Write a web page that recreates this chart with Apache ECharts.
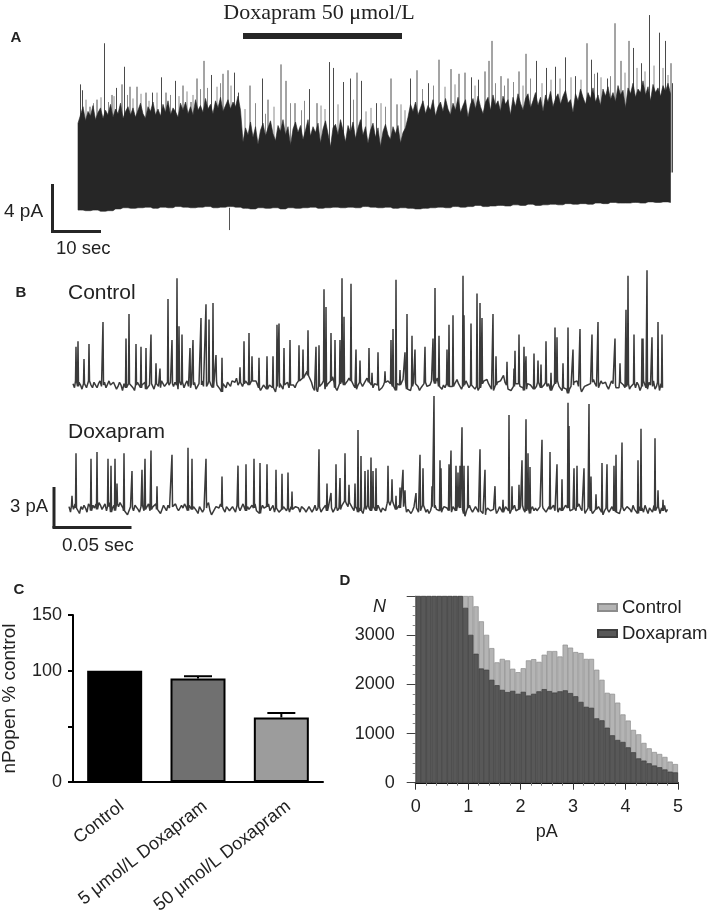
<!DOCTYPE html>
<html><head><meta charset="utf-8">
<style>html,body{margin:0;padding:0;background:#fff}#c{width:709px;height:916px}</style>
<script src="https://cdn.jsdelivr.net/npm/echarts@6/dist/echarts.min.js"></script>
</head><body><div id="c"></div>
<script>
// ---------- Panel A: long recording (time in s, current in pA) ----------
const aStep = 0.5;
const aBottomStep = 1.5;
const aBodyTop = [7.2,7.9,8.6,7.4,8.2,7.8,8.7,7.5,8.1,8.5,7.6,8.3,7.9,8.8,7.7,8.4,8.0,8.9,7.6,8.2,8.6,7.9,8.5,7.7,8.3,8.9,8.0,7.6,8.6,8.2,9.0,7.9,8.4,7.8,8.8,8.1,9.1,7.9,8.5,8.2,7.7,8.9,8.3,9.0,8.0,8.6,7.9,9.2,8.3,8.7,8.1,9.3,8.4,8.8,8.0,9.1,8.5,9.4,8.2,8.7,9.2,8.4,9.0,8.6,9.5,8.3,
  5.6,6.8,6.2,7.3,6.0,6.9,5.4,6.6,7.2,6.1,6.8,7.4,6.3,5.7,7.0,6.5,7.5,6.2,6.9,5.3,6.7,7.3,6.4,7.0,5.8,6.6,7.5,6.1,6.9,6.4,7.2,5.5,6.7,7.4,6.3,5.2,6.8,7.1,6.2,7.5,6.6,5.6,7.0,6.4,7.3,5.9,6.8,7.5,6.2,6.9,5.5,6.6,7.2,6.0,6.8,5.2,6.5,7.1,6.2,5.8,6.9,6.3,7.0,5.5,6.4,6.8,
  7.7,8.8,8.2,9.0,7.9,8.5,9.1,8.0,8.7,8.3,9.2,7.8,8.6,9.0,8.2,9.3,8.4,7.9,8.9,8.3,9.4,8.1,8.7,9.2,7.7,8.8,9.3,8.4,9.5,8.6,8.0,9.0,9.4,8.3,9.6,8.7,9.1,8.2,9.5,8.8,9.2,7.9,9.4,8.6,9.7,8.9,8.3,9.3,9.7,8.5,9.1,9.8,8.7,9.4,8.2,9.6,9.0,9.9,8.6,9.3,9.7,8.8,9.5,10.0,8.9,9.2,8.1,9.7,9.1,10.1,9.4,8.8,9.8,9.3,10.2,9.0,9.6,8.7,10.1,9.5,10.3,9.2,9.8,9.0,10.4,9.6,10.0,8.5,10.2,9.7,10.6,9.4,10.1,9.8,10.8,9.6,10.3,9.1,10.5,9.8,10.2,9.5,10.4,9.9,10.6,9.7];
const aBodyBottom = [-0.2,-0.25,-0.2,-0.3,-0.25,-0.1,0.0,-0.05,0.0,0.05,-0.05,0.05,0.0,0.1,0.05,0.0,0.05,0.1,0.0,0.05,0.1,0.05,
  -0.05,-0.1,0.0,-0.05,0.0,-0.1,0.0,-0.05,0.0,0.05,-0.05,0.0,0.05,0.0,0.05,0.0,0.1,0.05,0.0,0.05,-0.05,0.0,
  -0.05,-0.1,-0.05,0.0,0.05,0.0,0.1,0.05,0.1,0.2,0.1,0.15,0.2,0.15,0.25,0.2,0.3,0.2,0.25,0.3,0.25,0.35,0.3,0.35,0.3,0.4,0.35,0.45,0.4,0.4,0.45,0.4,0.5,0.45,0.5,0.45];
const aSpikes = [[0.5,10.5],[0.9,10],[2.4,8.6],[3.8,9.2],[5.3,14],[6.8,9.6],[7.7,10.2],[8.8,10.5],[9.3,12],[10.4,10.3],[11.8,10.3],[13.6,9.8],[14.9,9.8],[16.7,11.1],[17.6,9.8],[19.5,10.8],[21,10.4],[22.6,9],[23.8,11],[25.2,12.5],[26.7,11.3],[29,11.4],[30,11.7],[31.3,11.5],[32.1,9.8],[34.4,10.4],[36.9,11],[38,9.2],[40.6,12.2],[41.6,10.8],[43.4,8.9],[46.3,10.1],[47.8,8.9],[50.3,12.4],[51.1,11.9],[53.1,10.7],[54.5,11],[55.8,11.5],[56.7,10.8],[59.7,8.9],[62.6,11],[63.8,8.8],[66.5,11],[67.8,11.7],[70.1,10.6],[72.2,12.6],[74.6,11.8],[76.2,11.4],[77.4,11.5],[78.7,11.1],[80.1,10.9],[81.4,11.6],[82.2,12.5],[82.8,14.2],[84.6,11.2],[86,11],[88.2,11.6],[89.6,13.1],[91.7,12.5],[93.7,11.9],[95.5,12],[97.5,12.8],[99.5,11.2],[101.8,14],[102.7,12.6],[103.9,11.5],[105.9,11],[107.4,15.7],[108.6,12.5],[110.2,14.2],[111.1,13.6],[112.7,12.3],[114.3,16.4],[116.3,14.9],[117.5,14.2],[118.6,12.3],[118.9,10.6]];
const aSmallSpikes = [[1.6,9.2],[3.1,8.9],[4.6,9.4],[6.1,9],[7.2,9.5],[9.9,9.6],[11,9.3],[12.6,9.7],[14.2,9.1],[15.8,9.8],[18.5,9.6],[20.2,9.5],[21.8,9.9],[23,9.6],[24.5,10.1],[25.9,10.2],[27.8,10.3],[28.5,10.6],[30.6,10.4],[33.4,8.4],[35.5,8.9],[37.5,8],[39.2,8.6],[42.5,8.9],[44.7,8.3],[45.3,9.1],[48.6,8.7],[49.4,8.4],[52,8.8],[55.1,9.2],[57.6,8.2],[58.6,8.5],[60.6,8.9],[61.5,8.6],[64.6,8.8],[65.4,8.3],[68.9,10.1],[71.1,10.4],[73.4,10.3],[75.4,10.5],[79.4,10.4],[83.5,10.6],[85.3,10.4],[87.1,10.7],[89,10.4],[90.5,11],[92.8,10.6],[94.6,10.9],[96.4,11],[98.6,11.1],[100.6,10.9],[103.3,11.4],[104.6,11.1],[106.5,11.2],[109.4,11.5],[111.8,11.9],[113.4,11.6],[115.2,12.1],[117,11.9],[118,11.3]];
const aNegSpikes = [[30.3,-1.9]];

// ---------- Panel B: sweeps (sample index, current in pA) ----------
const ctlStep = 1.5;
const ctlEnd = 590;
const ctlNoise = [0.1,-0.2,0.3,-0.1,0.2,0.0,-0.3,0.1,0.2,-0.2,-0.1,0.3,0.0,-0.2,0.2,0.1,-0.2,0.1,0.3,-0.1,0.0,0.2,-0.2,-0.1,0.3,0.0,-0.1,0.2,0.1,-0.3,-0.1,0.2,0.0,-0.4,0.1,-0.2,-0.3,0.1,0.0,0.2,-0.2,-0.4,0.0,0.2,0.1,-0.2,0.0,-0.1,0.2,-0.3,-0.4,0.0,0.1,0.2,-0.3,0.1,0.2,-0.1,-0.2,0.3,0.1,-0.1,-0.2,0.2,0.0,0.2,0.1,-0.1,0.2,0.0,-0.3,0.3,0.0,0.2,-0.2,0.1,0.3,-0.1,-0.2,0.1,0.0,0.2,-0.3,-0.1,0.1,0.0,0.3,-0.1,-0.2,-0.1,0.1,0.3,0.0,-0.2,0.2,0.3,0.0,0.1,-0.3,-0.5,0.1,0.0,-0.2,0.2,0.1,-0.1,0.3,0.4,0.2,0.5,0.0,0.2,0.3,-0.1,0.1,0.3,0.2,0.0,-0.1,0.3,0.2,0.4,0.3,0.0,-0.2,-0.4,-0.3,0.0,0.1,-0.3,-0.2,0.0,0.1,-0.2,-0.3,-0.5,-0.1,-0.2,0.1,-0.1,-0.3,0.0,0.1,0.2,-0.2,0.0,0.1,0.0,-0.2,0.1,0.0,0.3,0.2,0.5,0.6,0.8,1.0,0.7,0.6,0.2,-0.2,-0.4,-0.3,-0.5,-0.1,0.0,0.1,0.3,-0.3,-0.1,0.1,0.2,0.3,0.6,0.2,-0.2,-0.4,-0.1,0.1,0.3,0.2,0.0,0.0,0.3,0.5,0.3,0.2,0.0,-0.2,-0.3,0.0,0.2,0.1,-0.1,0.0,0.3,0.5,0.2,0.1,0.0,-0.2,0.1,0.2,0.0,-0.4,-0.5,-0.2,0.0,0.2,0.1,0.3,0.4,0.1,-0.1,-0.2,-0.4,0.1,0.2,0.0,-0.1,0.4,0.3,-0.1,-0.3,-0.2,-0.4,-0.1,0.2,0.1,0.0,-0.1,-0.4,-0.2,-0.3,0.1,0.2,-0.1,-0.2,0.0,0.3,0.4,0.1,0.3,0.5,-0.1,-0.2,-0.3,0.0,-0.2,0.1,0.2,-0.1,-0.2,-0.1,0.0,0.2,0.4,0.1,-0.1,-0.3,-0.1,0.0,0.3,0.2,-0.2,0.0,-0.1,0.1,-0.3,-0.1,-0.4,-0.2,0.0,0.1,0.3,0.2,0.4,0.1,0.2,-0.3,-0.4,-0.2,0.0,0.2,0.1,0.3,0.5,0.7,0.2,0.0,-0.3,-0.2,-0.4,-0.3,-0.1,0.1,0.2,0.1,-0.1,0.0,-0.2,-0.4,-0.3,0.1,0.2,0.0,-0.1,-0.3,-0.2,-0.1,0.2,0.0,-0.2,-0.3,0.0,0.2,-0.1,0.1,0.0,-0.4,-0.1,0.1,0.2,0.3,-0.1,-0.2,-0.4,-0.2,-0.1,-0.3,-0.6,-0.3,-0.1,0.0,0.2,0.1,0.3,-0.1,-0.2,-0.5,-0.3,-0.1,-0.2,0.0,-0.1,0.1,0.2,0.4,0.1,-0.1,-0.2,0.0,0.3,0.1,0.0,0.2,-0.1,-0.3,0.0,0.3,0.1,0.0,-0.2,-0.3,-0.2,0.2,0.1,0.0,-0.2,-0.1,0.1,-0.3,-0.1,0.0,0.1,-0.2,0.2,0.0,-0.4,-0.1,0.3,0.1,-0.2,-0.3,0.2,0.0,-0.1,0.3,-0.3,-0.1,0.2,-0.4,0.1,-0.2,0.0,0.3,-0.1,-0.3,0.2,-0.2,0.0,-0.4,0.1,0.2,-0.1];
const ctlSpikes = [[3,2.8],[5,3.2],[11,1.9],[16,3],[30,4.6],[53,3.4],[56,5.2],[63,3],[68,2.8],[73,2.7],[78,3.7],[83,1.6],[87,1.2],[95,6.3],[99,3.3],[104,7.8],[106,4.3],[109,3.7],[117,2.7],[120,3.3],[128,4.9],[133,5.9],[136,4.8],[140,6],[143,2.2],[149,2],[167,1.3],[171,3.2],[176,3.8],[179,2.1],[186,2],[194,2.1],[200,2.1],[204,4.4],[206,4.5],[211,2.7],[217,3.3],[226,2.9],[230,2.6],[235,4],[243,2.8],[246,2.9],[251,7],[253,5.7],[258,3.8],[262,3.3],[267,3.3],[269,7.8],[271,5],[278,7.4],[283,2.6],[287,1.8],[296,2.7],[299,0.9],[305,2.4],[312,1],[318,3.3],[320,4.1],[323,7.7],[327,1.1],[332,2.4],[334,5.2],[339,3.6],[342,2.6],[352,2.8],[360,3.4],[362,7.1],[366,3.6],[374,2.6],[376,4.4],[380,5.1],[390,8],[391,5.1],[398,4.5],[404,6.7],[407,6],[409,4.9],[420,5.2],[423,2.1],[434,1.7],[441,1.2],[442,2.5],[446,3.7],[451,2.8],[453,2.1],[461,2.3],[465,1.8],[468,1.5],[473,3.2],[478,0.9],[482,4.2],[484,3.5],[490,1.6],[495,4.2],[500,2.6],[507,4.1],[519,3.7],[525,4.6],[542,3.4],[547,1.6],[553,5.5],[555,8],[561,3.7],[569,3.4],[570,3.4],[574,8.4],[579,3.5],[585,4.6],[589,3.7]];
const doxStep = 1.5;
const doxEnd = 599;
const doxNoise = [0.1,-0.3,0.2,-0.1,0.3,0.0,-0.2,-0.4,0.1,-0.1,0.2,0.0,-0.3,0.3,0.1,-0.2,0.2,0.0,0.3,-0.1,0.4,0.2,-0.1,0.1,0.3,-0.2,0.1,0.4,-0.3,0.0,0.2,-0.2,0.3,0.1,0.4,0.2,0.0,-0.2,-0.3,-0.5,-0.2,0.1,0.0,-0.2,0.2,0.3,-0.1,-0.3,0.1,0.2,-0.2,-0.1,0.0,0.3,-0.2,-0.1,0.1,0.2,0.3,-0.1,-0.2,-0.4,-0.1,0.2,0.1,-0.2,0.2,0.0,-0.1,0.1,0.2,0.3,0.0,-0.2,-0.3,0.2,0.0,0.3,0.1,-0.2,0.2,0.3,-0.1,0.1,0.0,-0.2,-0.4,0.1,0.2,-0.3,-0.1,0.0,0.2,0.4,-0.2,-0.5,-0.3,-0.1,0.1,0.2,0.0,0.3,0.1,-0.1,-0.3,0.1,0.2,-0.2,-0.1,0.1,0.0,-0.3,0.2,0.1,-0.2,-0.3,0.3,0.0,-0.2,0.1,-0.1,-0.2,0.2,0.0,0.3,-0.2,-0.1,-0.4,-0.1,0.2,0.0,-0.1,0.1,0.3,-0.2,-0.1,0.2,-0.3,0.0,0.1,-0.3,-0.2,-0.1,0.1,0.2,-0.2,0.0,-0.3,0.1,-0.1,-0.2,0.1,0.2,0.0,-0.3,0.1,0.2,-0.1,-0.3,-0.2,0.1,0.0,-0.3,-0.1,0.2,-0.2,0.0,0.1,-0.3,-0.1,0.0,0.2,-0.2,0.1,0.2,0.0,-0.3,-0.1,0.1,-0.2,0.0,-0.1,0.2,0.3,0.5,0.3,0.1,0.4,0.2,0.0,-0.2,0.1,-0.1,-0.3,0.0,-0.2,-0.4,0.1,-0.1,0.2,0.0,-0.2,-0.3,0.1,0.0,-0.2,0.2,0.1,-0.3,0.0,0.1,-0.2,0.3,0.5,0.2,0.6,0.4,0.1,-0.1,-0.2,0.2,0.0,-0.1,0.1,0.2,-0.3,-0.1,0.0,-0.4,-0.2,0.1,0.0,-0.1,-0.3,-0.2,0.0,0.2,0.1,-0.3,-0.1,-0.4,-0.2,0.1,0.0,0.2,-0.1,0.0,-0.2,-0.3,-0.1,0.1,0.2,0.0,-0.2,-0.1,-0.3,0.1,0.0,-0.2,0.2,0.3,0.0,-0.1,-0.4,-0.6,-0.2,0.0,0.2,-0.1,-0.3,-0.1,0.1,0.0,-0.3,-0.2,-0.1,-0.4,-0.5,-0.2,0.0,0.1,-0.2,-0.3,-0.1,0.0,-0.4,-0.2,0.1,-0.1,-0.3,-0.2,0.1,0.0,-0.2,-0.4,-0.1,0.0,0.2,-0.2,-0.3,-0.1,0.1,0.2,-0.1,-0.3,-0.2,0.0,-0.4,-0.1,0.1,-0.2,0.0,-0.2,-0.3,0.1,0.2,0.0,-0.1,-0.3,-0.2,0.1,-0.1,0.0,0.2,-0.2,-0.1,-0.3,0.0,0.1,-0.2,-0.1,0.2,0.1,0.0,-0.2,-0.3,-0.1,0.0,-0.2,0.1,0.3,0.0,-0.2,-0.1,-0.4,-0.2,0.0,0.1,-0.2,-0.4,-0.3,-0.1,-0.2,0.1,0.0,-0.3,-0.5,-0.2,0.0,-0.1,-0.3,-0.1,0.1,-0.2,0.0,-0.3,-0.2,-0.4,0.0,0.1,-0.2,-0.3,0.1,0.0,-0.1,-0.3,0.2,-0.1,-0.2,-0.4,0.1,-0.2,0.0,-0.3,0.2,-0.1,-0.4,0.0,0.1,-0.3,0.2,-0.2,-0.1,0.1,-0.4,0.0,-0.2,0.2,-0.3,-0.1,0.1,-0.2,0.0,-0.5,-0.1,0.2,-0.3,0.1,-0.2,-0.4];
const doxSpikes = [[3,0.9],[7,4],[22,3.6],[28,4.1],[39,3.6],[42,3.1],[46,3.6],[48,1.8],[55,4],[63,2.7],[73,2.8],[76,3.6],[82,4.2],[88,1.6],[103,3.9],[119,4.4],[123,3.6],[137,3.6],[153,2.3],[169,3.1],[177,3.2],[185,3.6],[191,3.3],[198,3.2],[207,2.8],[213,2.5],[219,2.6],[223,1.2],[250,4.3],[258,1.8],[262,1.1],[267,3.2],[271,2.2],[276,4],[280,1.7],[286,1.8],[289,5.7],[292,3.8],[296,2.7],[299,2.8],[302,3.7],[304,2.7],[307,2.9],[319,3.1],[323,2.1],[327,0.9],[331,1.5],[334,2.8],[336,1.3],[347,1.1],[351,3.9],[354,2.9],[363,1.6],[365,8.2],[371,3.5],[372,2.9],[380,3.2],[382,4.2],[387,3.1],[389,2.6],[391,3.1],[393,5.9],[395,3.1],[399,3.1],[411,4.3],[416,2.8],[426,1.6],[434,0.6],[440,6.8],[443,1.6],[450,1.7],[453,3.5],[457,6.5],[459,4],[461,3],[473,5],[481,4.1],[488,3.2],[493,2.1],[499,7.7],[500,6],[505,2.9],[508,3.1],[515,2.9],[520,7.6],[522,2.3],[527,1],[533,3.3],[538,3.2],[545,3.1],[547,3.9],[553,4.8],[569,3.5],[572,5.8],[586,5.1],[589,1.3],[594,0.6]];

// ---------- Panel C ----------
const cCategories = ['Control','5 μmol/L Doxapram','50 μmol/L Doxapram'];
const cValues = [100,93,58];
const cErrorTop = [100,95,62];
const cColors = ['#000000','#707070','#9c9c9c'];
const cYTicks = [0,100,150];

// ---------- Panel D (bins of 0.1 pA; the first bins run off the top of the plot) ----------
const dBins = ['0.0','0.1','0.2','0.3','0.4','0.5','0.6','0.7','0.8','0.9','1.0','1.1','1.2','1.3','1.4','1.5','1.6','1.7','1.8','1.9','2.0','2.1','2.2','2.3','2.4','2.5','2.6','2.7','2.8','2.9','3.0','3.1','3.2','3.3','3.4','3.5','3.6','3.7','3.8','3.9','4.0','4.1','4.2','4.3','4.4','4.5','4.6','4.7','4.8','4.9'];
const dControl = [3800,3800,3800,3800,3800,3800,3800,3800,3800,3800,3800,3590,3285,3010,2740,2450,2520,2490,2320,2250,2330,2490,2515,2460,2605,2680,2680,2570,2810,2750,2660,2640,2520,2520,2300,2095,1830,1810,1630,1390,1265,1075,985,810,700,625,585,525,430,380];
const dDoxapram = [3800,3800,3800,3800,3800,3800,3800,3800,3800,3560,3010,2625,2325,2300,2095,1985,1890,1845,1870,1810,1850,1775,1810,1860,1905,1865,1835,1860,1880,1825,1760,1645,1545,1525,1310,1270,1120,965,870,830,720,620,495,450,395,350,315,270,225,210];

const SANS = '"Liberation Sans", Arial, sans-serif';
const INK = '#262626';

function buildTrace(noise, step, spikes, end){
  const pts = noise.map((v,i)=>[i*step,v]).filter(p=>p[0]<=end);
  spikes.forEach(s=>{
    const base = noise[Math.min(noise.length-1,Math.round(s[0]/step))];
    pts.push([s[0]-0.5,base],[s[0],s[1]],[s[0]+0.5,base]);
  });
  return pts.sort((a,b)=>a[0]-b[0]);
}
function spikeRenderer(stroke, width, base){
  return function(params, api){
    const a = api.coord([api.value(0), base]);
    const b = api.coord([api.value(0), api.value(1)]);
    return {type:'line',shape:{x1:a[0],y1:a[1],x2:b[0],y2:b[1]},style:{stroke:stroke,lineWidth:width}};
  };
}
const aLow = aBodyTop.map((v,i)=>aBodyBottom[Math.min(aBodyBottom.length-1,Math.floor(i*aStep/aBottomStep))]);
const aBodyRows = aBodyTop.map((v,i)=>[i*aStep,aLow[i],v]);
function renderBody(params, api){
  if (params.dataIndex !== 0) return null;
  const upper = aBodyRows.map(r=>api.coord([r[0],r[2]]));
  const lower = aBodyRows.map(r=>api.coord([r[0],r[1]])).reverse();
  return {type:'polygon',shape:{points:upper.concat(lower)},style:{fill:INK,stroke:INK,lineWidth:0.6}};
}
function renderError(params, api){
  const x = api.coord([api.value(0),0])[0];
  const lo = api.coord([api.value(0),api.value(1)])[1];
  const hi = api.coord([api.value(0),api.value(2)])[1];
  if (api.value(2) <= api.value(1)) return null;
  const lw = {stroke:'#000',lineWidth:2};
  return {type:'group',children:[
    {type:'line',shape:{x1:x,y1:lo,x2:x,y2:hi},style:lw},
    {type:'line',shape:{x1:x-14,y1:hi,x2:x+14,y2:hi},style:lw}]};
}
function txt(x,y,s,size,extra){
  return {type:'text',x:x,y:y,style:Object.assign({text:s,font:size+'px '+SANS,fill:'#222',textVerticalAlign:'middle'},extra||{})};
}
function bold(x,y,s){ return {type:'text',x:x,y:y,style:{text:s,font:'bold 15px '+SANS,fill:'#222',textAlign:'center',textVerticalAlign:'middle'}}; }
function bar(x,y,w,h){ return {type:'rect',shape:{x:x,y:y,width:w,height:h},style:{fill:INK}}; }

const hiddenX = (g,min,max)=>({type:'value',gridIndex:g,min:min,max:max,show:false});
const hiddenY = (g,min,max)=>({type:'value',gridIndex:g,min:min,max:max,show:false});

const option = {
  animation:false,
  backgroundColor:'#fff',
  textStyle:{fontFamily:SANS},
  grid:[
    {left:78,top:8,width:595,height:223.25,outerBoundsMode:'none'},
    {left:73,top:268.8,width:590,height:129.9,outerBoundsMode:'none'},
    {left:69,top:391.8,width:599,height:129.9,outerBoundsMode:'none'},
    {left:73,top:615,width:250,height:167,outerBoundsMode:'none'},
    {left:415.7,top:596,width:262.3,height:186.7,outerBoundsMode:'none'}
  ],
  xAxis:[
    hiddenX(0,0,119), hiddenX(1,0,590), hiddenX(2,0,599),
    {type:'category',gridIndex:3,data:cCategories,
      axisLine:{lineStyle:{color:'#000',width:2}},
      axisTick:{length:5,lineStyle:{color:'#000',width:2},alignWithLabel:true},
      axisLabel:{rotate:38,fontSize:18,color:'#222',margin:28,interval:0,fontFamily:SANS,padding:[0,-9,0,0]}},
    {type:'category',gridIndex:4,data:dBins,show:false},
    {type:'value',gridIndex:4,min:0,max:5,interval:1,position:'bottom',
      name:'pA',nameLocation:'middle',nameGap:40,nameTextStyle:{fontSize:18,color:'#222',fontFamily:SANS},
      axisLine:{lineStyle:{color:'#111',width:2}},
      axisTick:{length:7,lineStyle:{color:'#333',width:1}},
      minorTick:{show:true,splitNumber:5,length:3,lineStyle:{color:'#777'}},
      splitLine:{show:false},
      axisLabel:{fontSize:18,color:'#222',margin:15,fontFamily:SANS}}
  ],
  yAxis:[
    hiddenY(0,-2,17), hiddenY(1,-1,8.5), hiddenY(2,-1,8.5),
    {type:'value',gridIndex:3,min:0,max:150,interval:50,
      name:'nPopen % control',nameLocation:'middle',nameGap:54,nameRotate:90,
      nameTextStyle:{fontSize:19,color:'#222',fontFamily:SANS},
      axisLine:{show:true,lineStyle:{color:'#000',width:2}},
      axisTick:{show:true,length:5,lineStyle:{color:'#000',width:2}},
      splitLine:{show:false},
      axisLabel:{fontSize:18,color:'#222',margin:11,fontFamily:SANS,
        formatter:v=>cYTicks.indexOf(v)>=0?String(v):''}},
    {type:'value',gridIndex:4,min:0,max:3800,interval:1000,
      axisLine:{show:true,lineStyle:{color:'#999',width:1}},
      axisTick:{show:true,length:9,lineStyle:{color:'#444',width:1}},
      minorTick:{show:true,splitNumber:5,length:3,lineStyle:{color:'#888'}},
      splitLine:{show:false},
      axisLabel:{fontSize:18,color:'#222',margin:21,showMaxLabel:false,fontFamily:SANS,
        formatter:v=>String(v)}}
  ],
  legend:{
    left:597,top:598,orient:'vertical',itemWidth:19,itemHeight:7,itemGap:7,icon:'rect',padding:0,
    data:['Control','Doxapram'],
    textStyle:{fontSize:18.5,color:'#222',fontFamily:SANS}
  },
  graphic:[
    {type:'text',x:319,y:13,style:{text:'Doxapram 50 μmol/L',font:'22px "Liberation Serif", serif',fill:'#222',textAlign:'center',textVerticalAlign:'middle'}},
    bar(243,33,159,6),
    bold(16,38,'A'),bold(21,293,'B'),bold(19,590,'C'),bold(345,581,'D'),
    bar(51,184,3,49),bar(51,230,50,3),
    txt(4,212,'4 pA',19),txt(56,249,'10 sec',18.5),
    txt(68,293,'Control',21),txt(68,432,'Doxapram',21),
    bar(52.5,487,3,41),bar(52.5,526,79,3),
    txt(10,507,'3 pA',18.5),txt(62,546,'0.05 sec',19),
    {type:'text',x:373,y:607,style:{text:'N',font:'italic 18px '+SANS,fill:'#222',textVerticalAlign:'middle'}}
  ],
  series:[
    {type:'custom',name:'A small',xAxisIndex:0,yAxisIndex:0,renderItem:spikeRenderer('#8a8a8a',1,3),data:aSmallSpikes,encode:{x:0,y:1},silent:true},
    {type:'custom',name:'A spikes',xAxisIndex:0,yAxisIndex:0,renderItem:spikeRenderer('#4a4a4a',1,3),data:aSpikes,encode:{x:0,y:1},silent:true},
    {type:'custom',name:'A neg',xAxisIndex:0,yAxisIndex:0,renderItem:spikeRenderer('#555',1,0),data:aNegSpikes,encode:{x:0,y:1},silent:true},
    {type:'custom',name:'A body',xAxisIndex:0,yAxisIndex:0,renderItem:renderBody,data:aBodyRows,encode:{x:0,y:[1,2]},silent:true},
    {type:'line',name:'Control trace',xAxisIndex:1,yAxisIndex:1,data:buildTrace(ctlNoise,ctlStep,ctlSpikes,ctlEnd),showSymbol:false,
      lineStyle:{color:'#3a3a3a',width:1.5},silent:true},
    {type:'line',name:'Doxapram trace',xAxisIndex:2,yAxisIndex:2,data:buildTrace(doxNoise,doxStep,doxSpikes,doxEnd),showSymbol:false,
      lineStyle:{color:'#3a3a3a',width:1.5},silent:true},
    {type:'bar',name:'nPopen',xAxisIndex:3,yAxisIndex:3,barWidth:55,
      data:cValues.map((v,i)=>({value:v,itemStyle:{color:cColors[i],borderColor:'#000',borderWidth:2}})),silent:true},
    {type:'custom',name:'nPopen error',xAxisIndex:3,yAxisIndex:3,renderItem:renderError,
      data:cValues.map((v,i)=>[i,v,cErrorTop[i]]),encode:{x:0,y:[1,2]},z:1,silent:true},
    {type:'bar',name:'Control',xAxisIndex:4,yAxisIndex:4,data:dControl,barWidth:'100%',barGap:'-100%',
      itemStyle:{color:'#b4b4b4',borderColor:'#8c8c8c',borderWidth:0.7},silent:true},
    {type:'bar',name:'Doxapram',xAxisIndex:4,yAxisIndex:4,data:dDoxapram,barWidth:'100%',barGap:'-100%',
      itemStyle:{color:'#585858',borderColor:'#3e3e3e',borderWidth:0.7},silent:true}
  ]
};
echarts.init(document.getElementById('c'),null,{renderer:'canvas'}).setOption(option);
</script></body></html>
